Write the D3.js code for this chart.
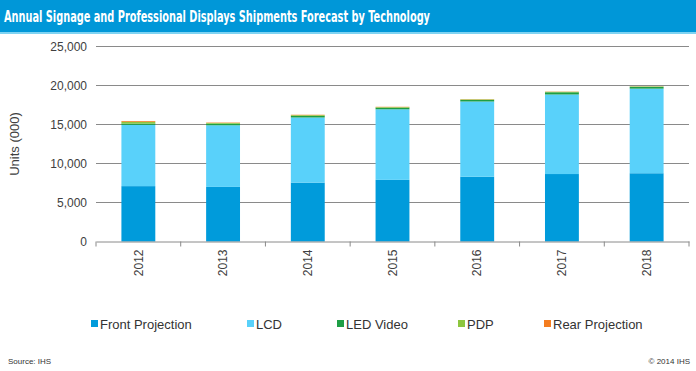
<!DOCTYPE html>
<html>
<head>
<meta charset="utf-8">
<script src="https://cdn.jsdelivr.net/npm/d3@7"></script>
<style>
  body { margin: 0; background: #fff; }
  svg { display: block; font-family: "Liberation Sans", Arial, sans-serif; }
</style>
</head>
<body>
<div id="chart"></div>
<script>
const svgWidth = 696,
    svgHeight = 371,
    margin = { top: 46.5, right: 7, bottom: 129.5, left: 96 },
    width = svgWidth - margin.left - margin.right,
    height = svgHeight - margin.top - margin.bottom;

// data (units, thousands)
const years = ["2012", "2013", "2014", "2015", "2016", "2017", "2018"];
const frontProjection = [7100, 7000, 7550, 7900, 8300, 8650, 8750];
const lcd = [7850, 7900, 8350, 9050, 9650, 10200, 10850];
const ledVideo = [170, 200, 200, 200, 200, 280, 230];
const pdp = [230, 100, 100, 80, 70, 60, 50];
const rearProjection = [100, 50, 50, 40, 30, 30, 20];
const yTicks = [0, 5000, 10000, 15000, 20000, 25000];

const seriesNames = ["Front Projection", "LCD", "LED Video", "PDP", "Rear Projection"];
const seriesColors = ["#009bdb", "#59d1fa", "#1e9e45", "#8dc63f", "#f47d20"];
const seriesValues = [frontProjection, lcd, ledVideo, pdp, rearProjection];

let rows = years.map((y, i) => {
    let r = { year: y };
    seriesNames.forEach((s, j) => r[s] = seriesValues[j][i]);
    return r;
});
let stacked = d3.stack().keys(seriesNames)(rows);

let svg = d3.select("#chart").append("svg")
    .attr("width", svgWidth)
    .attr("height", svgHeight);

// title bar
svg.append("rect")
    .attr("x", 0).attr("y", 0)
    .attr("width", svgWidth).attr("height", 32)
    .attr("fill", "#0097d8");
svg.append("rect")
    .attr("x", 0).attr("y", 32)
    .attr("width", svgWidth).attr("height", 2)
    .attr("fill", "#7fd3f2");
svg.append("text")
    .attr("x", 4)
    .attr("y", 22)
    .attr("fill", "#fff")
    .attr("font-family", "'DejaVu Sans Condensed', 'Liberation Sans Narrow', sans-serif")
    .attr("font-weight", "bold")
    .attr("font-size", 16)
    .attr("textLength", 426)
    .attr("lengthAdjust", "spacingAndGlyphs")
    .text("Annual Signage and Professional Displays Shipments Forecast by Technology");

let chart = svg.append("g")
    .attr("transform", `translate(${margin.left},${margin.top})`);

let x = d3.scaleBand()
    .domain(years)
    .range([0, width])
    .paddingInner(0.6)
    .paddingOuter(0.3);
let y = d3.scaleLinear()
    .domain([0, 25000])
    .range([height, 0]);

// gridlines
chart.append("g")
    .selectAll("line")
    .data(yTicks.filter(d => d > 0))
    .join("line")
    .attr("x1", 0).attr("x2", width)
    .attr("y1", d => y(d)).attr("y2", d => y(d))
    .attr("stroke", "#8a8a8a")
    .attr("stroke-width", 1);

// y tick labels
chart.append("g")
    .selectAll("text")
    .data(yTicks)
    .join("text")
    .attr("x", -9)
    .attr("y", d => y(d))
    .attr("dy", "0.35em")
    .attr("text-anchor", "end")
    .attr("font-size", 12)
    .attr("fill", "#404040")
    .text(d => d3.format(",")(d));

// bars
chart.append("g")
    .selectAll("g")
    .data(stacked)
    .join("g")
    .attr("fill", (d, i) => seriesColors[i])
    .selectAll("rect")
    .data(d => d)
    .join("rect")
    .attr("x", d => x(d.data.year))
    .attr("y", d => y(d[1]))
    .attr("width", x.bandwidth())
    .attr("height", d => y(d[0]) - y(d[1]));

// x axis
let xAxis = chart.append("g")
    .attr("transform", `translate(0,${height})`)
    .call(d3.axisBottom(x).tickSize(0).tickPadding(10));
xAxis.select(".domain").attr("stroke", "#8a8a8a");
xAxis.selectAll("text")
    .attr("font-size", 12)
    .attr("font-family", "'Liberation Sans', Arial, sans-serif")
    .attr("fill", "#404040")
    .attr("transform", "rotate(-90)")
    .attr("text-anchor", "end")
    .attr("x", -8)
    .attr("y", 0)
    .attr("dy", "0.35em");
// category boundary ticks
let step = x.step();
chart.append("g")
    .selectAll("line")
    .data(d3.range(years.length + 1))
    .join("line")
    .attr("x1", i => i * width / years.length)
    .attr("x2", i => i * width / years.length)
    .attr("y1", height).attr("y2", height + 5)
    .attr("stroke", "#8a8a8a");

// y axis title
svg.append("text")
    .attr("transform", "rotate(-90)")
    .attr("x", -144)
    .attr("y", 19)
    .attr("text-anchor", "middle")
    .attr("font-size", 13)
    .attr("fill", "#404040")
    .text("Units (000)");

// legend
const legendX = [91, 247, 337, 458, 544];
let legend = svg.append("g")
    .selectAll("g")
    .data(seriesNames)
    .join("g")
    .attr("transform", (d, i) => `translate(${legendX[i]},324)`);
legend.append("rect")
    .attr("x", 0).attr("y", -4)
    .attr("width", 7).attr("height", 7)
    .attr("fill", (d, i) => seriesColors[i]);
legend.append("text")
    .attr("x", 9)
    .attr("y", 0)
    .attr("dy", "0.35em")
    .attr("font-size", 13)
    .attr("fill", "#333")
    .text(d => d);

// footer
svg.append("text")
    .attr("x", 8).attr("y", 364)
    .attr("font-size", 8)
    .attr("fill", "#333")
    .text("Source: IHS");
svg.append("text")
    .attr("x", 690).attr("y", 364)
    .attr("text-anchor", "end")
    .attr("font-size", 8)
    .attr("fill", "#333")
    .text("© 2014 IHS");
</script>
</body>
</html>
